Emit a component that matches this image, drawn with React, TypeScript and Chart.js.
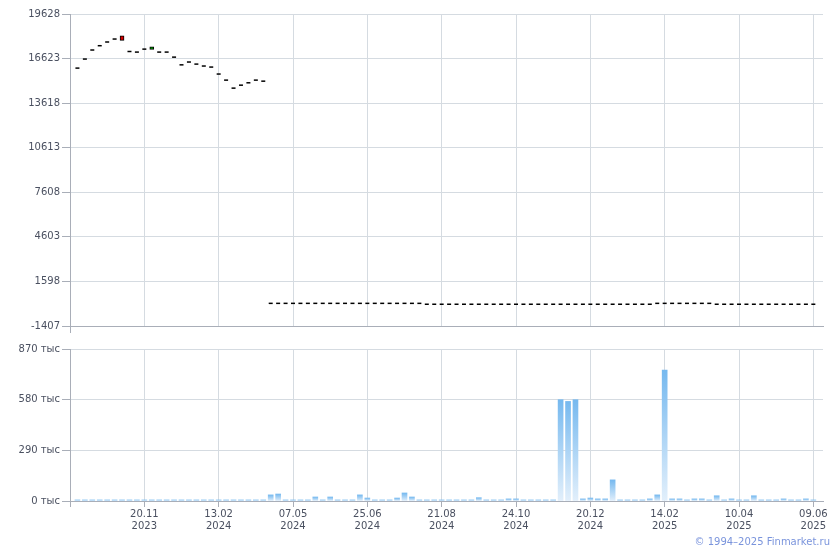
import React, { useEffect, useRef } from 'react';
import { Chart, registerables } from 'chart.js';
Chart.register(...registerables);

// ---- data ----
const priceClose = [
  15980, 16590, 17200, 17490, 17740, 17940, 17850, 17100, 17060, 17260,
  17420, 17060, 17060, 16720, 16200, 16390, 16250, 16120, 16050, 15580,
  15170, 14630, 14830, 14990, 15170, 15100,
  120, 120, 120, 120, 120, 120, 120, 120, 120, 120,
  120, 120, 120, 120, 120, 120, 120, 120, 120, 120, 120,
  60, 60, 60, 60, 60, 60, 60, 60, 60, 60,
  60, 60, 60, 60, 60, 60, 60, 60, 60, 60,
  60, 60, 60, 60, 60, 60, 60, 60, 60, 60, 60,
  120, 120, 120, 120, 120, 120, 120, 120,
  60, 60, 60, 60, 60, 60, 60, 60, 60, 60, 60, 60, 60, 60,
];
const boxIdx = [6, 10];
const boxOpen = [18160, 17240];
const boxClose = [17850, 17420];
const boxColor = ['#d40000', '#00a000'];

// volume, thousands
const volumes = [
  6, 6, 6, 6, 6, 6, 6, 6, 6, 6,
  6, 6, 6, 6, 6, 6, 6, 6, 6, 6,
  6, 6, 6, 6, 6, 6, 35, 40, 6, 6,
  6, 6, 23, 6, 23, 6, 6, 6, 35, 17,
  6, 6, 6, 17, 46, 23, 6, 6, 6, 6,
  6, 6, 6, 6, 19, 6, 6, 6, 12, 12,
  6, 6, 6, 6, 6, 580, 570, 580, 12, 17,
  12, 12, 121, 6, 6, 6, 6, 12, 35, 750,
  12, 12, 6, 12, 12, 6, 30, 6, 12, 6,
  6, 30, 6, 6, 6, 12, 6, 6, 12, 6,
];

const tickIdx = [9, 19, 29, 39, 49, 59, 69, 79, 89, 99];
const tickDay = ['20.11', '13.02', '07.05', '25.06', '21.08', '24.10', '20.12', '14.02', '10.04', '09.06'];
const tickYear = ['2023', '2024', '2024', '2024', '2024', '2024', '2024', '2025', '2025', '2025'];
const priceTicks = [-1407, 1598, 4603, 7608, 10613, 13618, 16623, 19628];
const volumeTicks = [0, 290, 580, 870];

// ---- styles ----
const FONT = { family: 'DejaVu Sans', size: 10 };
const GRID = '#d5dbe1';
const AXIS = '#a9aeb8';
const LABEL = '#4a5060';
const CLEAR = 'rgba(0,0,0,0)';

function xScale(showLabels: boolean): any {
  return {
    type: 'linear',
    min: -1,
    max: 100.3,
    offset: false,
    afterBuildTicks: (s: any) => {
      s.ticks = [{ value: -1 }, ...tickIdx.map((v) => ({ value: v }))];
    },
    ticks: {
      display: showLabels,
      autoSkip: false,
      maxRotation: 0,
      font: FONT,
      color: LABEL,
      padding: 1,
      callback: (v: any) => {
        const k = tickIdx.indexOf(v);
        return k < 0 ? '' : [tickDay[k], tickYear[k]];
      },
    },
    grid: {
      offset: false,
      color: (c: any) => (c.index === 0 ? CLEAR : GRID),
      tickColor: (c: any) => (c.index === 0 || showLabels ? AXIS : CLEAR),
      tickLength: showLabels ? 6 : 7,
      drawTicks: true,
    },
    border: { color: AXIS, width: 1 },
    afterFit: (s: any) => {
      s.height = showLabels ? 49 : 14;
    },
  };
}

function yScale(min: number, max: number, ticks: number[], fmt: (v: number) => string): any {
  return {
    min,
    max,
    afterBuildTicks: (s: any) => {
      s.ticks = ticks.map((v) => ({ value: v }));
    },
    ticks: { font: FONT, color: LABEL, padding: 2, callback: (v: any) => fmt(v) },
    grid: { color: GRID, tickColor: AXIS, tickLength: 8 },
    border: { color: AXIS, width: 1 },
    afterFit: (s: any) => {
      s.width = 70;
    },
  };
}

export default function App() {
  const topRef = useRef<HTMLCanvasElement>(null);
  const botRef = useRef<HTMLCanvasElement>(null);

  useEffect(() => {
    const dashes = priceClose
      .map((v, i) => ({ x: i, y: v }))
      .filter((p) => !boxIdx.includes(p.x));
    const boxes = boxIdx.map((i, k) => ({ x: i, y: [boxOpen[k], boxClose[k]] }));

    const top = new Chart(topRef.current as HTMLCanvasElement, {
      type: 'bar',
      data: {
        datasets: [
          {
            type: 'scatter',
            data: dashes as any,
            pointStyle: 'line',
            radius: 2,
            borderColor: '#000',
            backgroundColor: '#000',
            borderWidth: 1.5,
          } as any,
          {
            type: 'bar',
            data: boxes as any,
            backgroundColor: boxColor,
            borderColor: '#000',
            borderWidth: 1,
            borderSkipped: false,
            barThickness: 4,
          } as any,
        ],
      },
      options: {
        responsive: false,
        animation: false,
        layout: { padding: { top: 14, right: 17, left: 0, bottom: 0 } },
        plugins: { legend: { display: false }, tooltip: { enabled: false } },
        scales: {
          x: xScale(false),
          y: yScale(-1407, 19628, priceTicks, (v) => String(v)),
        },
      } as any,
    });

    const barColor = (ctx: any) => {
      const chart = ctx.chart;
      const area = chart.chartArea;
      if (!area || ctx.type !== 'data') return '#8cc3f0';
      const v = ctx.raw && typeof ctx.raw === 'object' ? ctx.raw.y : 0;
      const yS = chart.scales.y;
      const t = yS.getPixelForValue(v);
      const b = yS.getPixelForValue(0);
      if (!(b - t > 1)) return '#93c7f1';
      const g = chart.ctx.createLinearGradient(0, t, 0, b);
      g.addColorStop(0, '#76b9ef');
      g.addColorStop(1, '#e2effb');
      return g;
    };

    const bot = new Chart(botRef.current as HTMLCanvasElement, {
      type: 'bar',
      data: {
        datasets: [
          {
            data: volumes.map((v, i) => ({ x: i, y: v })) as any,
            backgroundColor: barColor,
            borderWidth: 0,
            barThickness: 5,
          } as any,
        ],
      },
      options: {
        responsive: false,
        animation: false,
        layout: { padding: { top: 9, right: 17, left: 0, bottom: 0 } },
        plugins: { legend: { display: false }, tooltip: { enabled: false } },
        scales: {
          x: xScale(true),
          y: yScale(0, 870, volumeTicks, (v) => `${v} тыс`),
        },
      } as any,
    });

    return () => {
      top.destroy();
      bot.destroy();
    };
  }, []);

  return (
    <div style={{ position: 'absolute', left: 0, top: 0, width: 840, height: 550, background: '#fff' }}>
      <canvas ref={topRef} width={840} height={340} style={{ position: 'absolute', left: 0, top: 0 }} />
      <canvas ref={botRef} width={840} height={210} style={{ position: 'absolute', left: 0, top: 340 }} />
      <div
        style={{
          position: 'absolute',
          right: 10,
          top: 536,
          fontFamily: 'DejaVu Sans',
          fontSize: 10,
          color: '#7a94dc',
          whiteSpace: 'nowrap',
        }}
      >
        © 1994–2025 Finmarket.ru
      </div>
    </div>
  );
}
